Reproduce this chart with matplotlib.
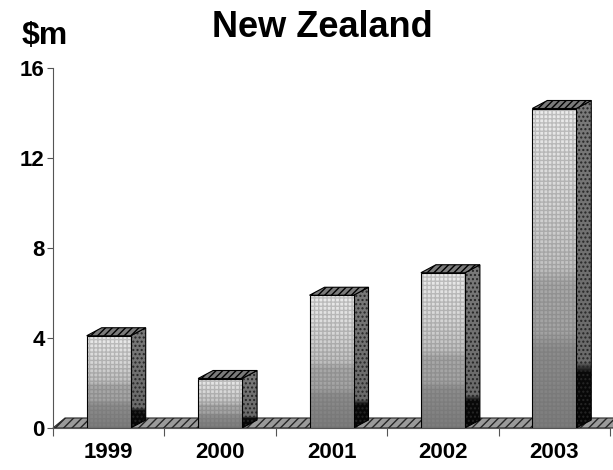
import numpy as np
import matplotlib.pyplot as plt
from matplotlib.patches import Polygon
from matplotlib.colors import LinearSegmentedColormap

# data ($m per year)
years = ["1999", "2000", "2001", "2002", "2003"]
values = [4.1, 2.2, 5.9, 6.9, 14.2]
yticks = [0, 4, 8, 12, 16]

plt.rcParams['font.family'] = ['Liberation Sans', 'DejaVu Sans']
plt.rcParams['font.weight'] = 'bold'

fig = plt.figure(figsize=(6.13, 4.70), dpi=100)
ax = fig.add_axes([53/613, 42/470, 557/613, 360/470])

# pixel sizes in data units, for the fake 3d depth
px_x = 5 / 557.0
px_y = 16 / 360.0
dx = 15 * px_x
dy = 8 * px_y
w = 44 * px_x

front_cm = LinearSegmentedColormap.from_list("front", [
    (0.0, "#7c7c7c"), (0.25, "#8e8e8e"), (0.3, "#a4a4a4"), (0.45, "#a8a8a8"),
    (0.5, "#c2c2c2"), (0.7, "#d6d6d6"), (1.0, "#ececec")])
side_cm = LinearSegmentedColormap.from_list("side", [
    (0.0, "#050505"), (0.17, "#0a0a0a"), (0.2, "#6a6a6a"), (1.0, "#7a7a7a")])
grad = np.linspace(0, 1, 256).reshape(-1, 1)

# floor
floor = Polygon([(0, 0), (5 + 3*px_x, 0), (5 + 3*px_x + 12*px_x, 10*px_y),
                 (12*px_x, 10*px_y)], closed=True, facecolor="#9a9a9a",
                edgecolor="#252525", hatch="////", lw=0.8, zorder=1, clip_on=False)
ax.add_patch(floor)

for i, v in enumerate(values):
    c = i + 0.5
    x0, x1 = c - w/2, c + w/2
    # side face
    side = Polygon([(x1, 0), (x1 + dx, dy), (x1 + dx, v + dy), (x1, v)],
                   closed=True, facecolor="none", edgecolor="black", lw=0.8, zorder=4)
    ax.add_patch(side)
    im = ax.imshow(grad, extent=[x1, x1 + dx, 0, v + dy], cmap=side_cm,
                   aspect="auto", origin="lower", zorder=3)
    im.set_clip_path(side)
    ax.add_patch(Polygon(side.get_xy(), closed=True, facecolor="none",
                         edgecolor="#262626", hatch="....", lw=0, zorder=3.5))
    # top face
    ax.add_patch(Polygon([(x0, v), (x1, v), (x1 + dx, v + dy), (x0 + dx, v + dy)],
                         closed=True, facecolor="#7a7a7a", edgecolor="black",
                         hatch="/////", lw=0.8, zorder=4))
    # front face
    front = Polygon([(x0, 0), (x1, 0), (x1, v), (x0, v)], closed=True,
                    facecolor="none", edgecolor="black", lw=0.8, zorder=6)
    ax.add_patch(front)
    im = ax.imshow(grad, extent=[x0, x1, 0, v], cmap=front_cm,
                   aspect="auto", origin="lower", zorder=5)
    im.set_clip_path(front)
    ax.add_patch(Polygon(front.get_xy(), closed=True, facecolor="none",
                         edgecolor="#6a6a6a", hatch="++++", lw=0, alpha=0.35, zorder=5.5))

ax.set_xlim(0, 5)
ax.set_ylim(0, 16)
ax.spines['top'].set_visible(False)
ax.spines['right'].set_visible(False)
ax.spines['left'].set_color("#555555")
ax.spines['bottom'].set_color("#555555")
ax.set_yticks(yticks)
ax.set_yticklabels([str(t) for t in yticks], fontsize=16, fontweight="bold")
ax.tick_params(axis='y', length=4, color="#555555", pad=2)
ax.set_xticks(np.arange(0, 6))
ax.set_xticklabels([])
ax.tick_params(axis='x', which='major', length=6, color="#555555")
ax.set_xticks(np.arange(5) + 0.5, minor=True)
ax.set_xticklabels(years, minor=True, fontsize=16, fontweight="bold")
ax.tick_params(axis='x', which='minor', length=0, pad=10)

fig.text(322/613, 433/470, "New Zealand", ha="center", va="baseline",
         fontsize=26, fontweight="bold")
fig.text(22/613, 426/470, "$m", ha="left", va="baseline",
         fontsize=23, fontweight="bold")

fig.savefig("out.png", dpi=100)
